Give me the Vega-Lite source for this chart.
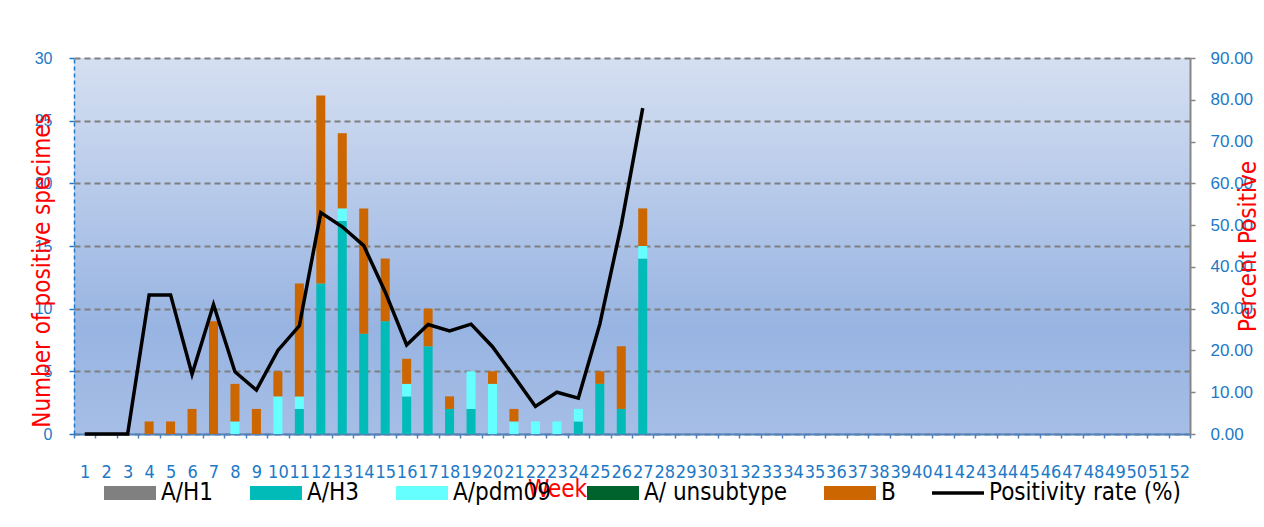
{
  "$schema": "https://vega.github.io/schema/vega-lite/v6.json",
  "width": 1116,
  "height": 376,
  "autosize": {"type": "none"},
  "padding": {"left": 74, "top": 58, "right": 74, "bottom": 93},
  "background": "white",
  "datasets": {
    "counts": [
      {"week": 4, "type": "B", "count": 1},
      {"week": 5, "type": "B", "count": 1},
      {"week": 6, "type": "B", "count": 2},
      {"week": 7, "type": "B", "count": 9},
      {"week": 8, "type": "A/pdm09", "count": 1},
      {"week": 8, "type": "B", "count": 3},
      {"week": 9, "type": "B", "count": 2},
      {"week": 10, "type": "A/pdm09", "count": 3},
      {"week": 10, "type": "B", "count": 2},
      {"week": 11, "type": "A/H3", "count": 2},
      {"week": 11, "type": "A/pdm09", "count": 1},
      {"week": 11, "type": "B", "count": 9},
      {"week": 12, "type": "A/H3", "count": 12},
      {"week": 12, "type": "B", "count": 15},
      {"week": 13, "type": "A/H3", "count": 17},
      {"week": 13, "type": "A/pdm09", "count": 1},
      {"week": 13, "type": "B", "count": 6},
      {"week": 14, "type": "A/H3", "count": 8},
      {"week": 14, "type": "B", "count": 10},
      {"week": 15, "type": "A/H3", "count": 9},
      {"week": 15, "type": "B", "count": 5},
      {"week": 16, "type": "A/H3", "count": 3},
      {"week": 16, "type": "A/pdm09", "count": 1},
      {"week": 16, "type": "B", "count": 2},
      {"week": 17, "type": "A/H3", "count": 7},
      {"week": 17, "type": "B", "count": 3},
      {"week": 18, "type": "A/H3", "count": 2},
      {"week": 18, "type": "B", "count": 1},
      {"week": 19, "type": "A/H3", "count": 2},
      {"week": 19, "type": "A/pdm09", "count": 3},
      {"week": 20, "type": "A/pdm09", "count": 4},
      {"week": 20, "type": "B", "count": 1},
      {"week": 21, "type": "A/pdm09", "count": 1},
      {"week": 21, "type": "B", "count": 1},
      {"week": 22, "type": "A/pdm09", "count": 1},
      {"week": 23, "type": "A/pdm09", "count": 1},
      {"week": 24, "type": "A/H3", "count": 1},
      {"week": 24, "type": "A/pdm09", "count": 1},
      {"week": 25, "type": "A/H3", "count": 4},
      {"week": 25, "type": "B", "count": 1},
      {"week": 26, "type": "A/H3", "count": 2},
      {"week": 26, "type": "B", "count": 5},
      {"week": 27, "type": "A/H3", "count": 14},
      {"week": 27, "type": "A/pdm09", "count": 1},
      {"week": 27, "type": "B", "count": 3}
    ],
    "rate": [
      {"week": 1, "rate": 0}, {"week": 2, "rate": 0}, {"week": 3, "rate": 0},
      {"week": 4, "rate": 33.3}, {"week": 5, "rate": 33.3}, {"week": 6, "rate": 14.3},
      {"week": 7, "rate": 31.0}, {"week": 8, "rate": 14.9}, {"week": 9, "rate": 10.5},
      {"week": 10, "rate": 20.0}, {"week": 11, "rate": 25.9}, {"week": 12, "rate": 53.0},
      {"week": 13, "rate": 49.6}, {"week": 14, "rate": 45.1}, {"week": 15, "rate": 34.0},
      {"week": 16, "rate": 21.3}, {"week": 17, "rate": 26.2}, {"week": 18, "rate": 24.7},
      {"week": 19, "rate": 26.3}, {"week": 20, "rate": 20.9}, {"week": 21, "rate": 13.8},
      {"week": 22, "rate": 6.6}, {"week": 23, "rate": 10.0}, {"week": 24, "rate": 8.6},
      {"week": 25, "rate": 26.3}, {"week": 26, "rate": 50.0}, {"week": 27, "rate": 78.0}
    ]
  },
  "layer": [
    {
      "data": {"name": "counts"},
      "mark": {"type": "bar", "width": {"band": 0.42}},
      "encoding": {
        "x": {
          "field": "week",
          "type": "ordinal",
          "scale": {
            "domain": [1,2,3,4,5,6,7,8,9,10,11,12,13,14,15,16,17,18,19,20,21,22,23,24,25,26,27,28,29,30,31,32,33,34,35,36,37,38,39,40,41,42,43,44,45,46,47,48,49,50,51,52],
            "paddingInner": 0,
            "paddingOuter": 0
          },
          "axis": {
            "title": "Week",
            "titleColor": "#ff0000",
            "titleFont": "DejaVu Sans Condensed, Liberation Sans",
            "titleFontSize": 24,
            "titleFontWeight": "normal",
            "titleX": 483,
            "titleY": 55,
            "titleAlign": "center",
            "titleBaseline": "middle",
            "labelAngle": 0,
            "labelFont": "DejaVu Sans Condensed, Liberation Sans",
            "labelFontSize": 18,
            "labelColor": "#2079c7",
            "labelPadding": 25,
            "labelOverlap": false,
            "labelBound": false,
            "tickBand": "extent",
            "tickSize": 4,
            "tickColor": "#4f81bd",
            "tickWidth": 1.5,
            "domainColor": "#4f81bd",
            "domainWidth": 2,
            "grid": false
          }
        },
        "y": {
          "field": "count",
          "type": "quantitative",
          "stack": "zero",
          "scale": {"domain": [0, 30], "nice": false},
          "axis": {
            "title": "Number of positive specimes",
            "titleColor": "#ff0000",
            "titleFont": "DejaVu Sans Condensed, Liberation Sans",
            "titleFontSize": 24,
            "titleFontWeight": "normal",
            "titleAngle": -90,
            "titleX": -32,
            "titleY": 212,
            "titleAlign": "center",
            "titleBaseline": "middle",
            "values": [0, 5, 10, 15, 20, 25, 30],
            "format": "d",
            "labelFont": "Liberation Sans",
            "labelFontSize": 16,
            "labelColor": "#2079c7",
            "labelPadding": 17,
            "tickSize": 5,
            "tickColor": "#2079c7",
            "tickWidth": 1.5,
            "domainColor": "#2079c7",
            "domainDash": [4, 3],
            "domainWidth": 1.5,
            "grid": true,
            "gridColor": "#7f7f7f",
            "gridDash": [6, 4],
            "gridWidth": 2
          }
        },
        "order": {"field": "type", "sort": "ascending"},
        "color": {
          "field": "type",
          "type": "nominal",
          "scale": {
            "domain": ["A/H1", "A/H3", "A/pdm09", "A/ unsubtype", "B", "Positivity rate (%)"],
            "range": ["#808080", "#00bbb8", "#66ffff", "#00622d", "#cc6600", "#000000"]
          },
          "legend": {
            "orient": "none",
            "legendX": 30,
            "legendY": 409,
            "direction": "horizontal",
            "columns": 6,
            "title": null,
            "padding": 0,
            "columnPadding": 36,
            "symbolSize": 2704,
            "symbolType": "M-1,-0.27H1V0.27H-1Z",
            "symbolStrokeWidth": 0,
            "symbolOpacity": 1,
            "labelFont": "DejaVu Sans Condensed, Liberation Sans",
            "labelFontSize": 24,
            "labelColor": "#000000",
            "labelOffset": 5,
            "labelLimit": 400,
            "encode": {
              "symbols": {
                "update": {
                  "shape": {"signal": "datum.value === 'Positivity rate (%)' ? 'M-1,-0.07H1V0.07H-1Z' : 'M-1,-0.27H1V0.27H-1Z'"}
                }
              }
            }
          }
        }
      }
    },
    {
      "data": {"name": "rate"},
      "mark": {"type": "line", "color": "#000000", "strokeWidth": 3.5},
      "encoding": {
        "x": {"field": "week", "type": "ordinal", "bandPosition": 0.5},
        "y": {
          "field": "rate",
          "type": "quantitative",
          "scale": {"domain": [0, 90], "nice": false},
          "axis": {
            "orient": "right",
            "title": "Percent Positive",
            "titleColor": "#ff0000",
            "titleFont": "DejaVu Sans Condensed, Liberation Sans",
            "titleFontSize": 24,
            "titleFontWeight": "normal",
            "titleAngle": -90,
            "titleX": 58,
            "titleY": 188,
            "titleAlign": "center",
            "titleBaseline": "middle",
            "values": [0, 10, 20, 30, 40, 50, 60, 70, 80, 90],
            "format": ".2f",
            "labelFont": "Liberation Sans",
            "labelFontSize": 17,
            "labelColor": "#2079c7",
            "labelPadding": 15,
            "tickSize": 5,
            "tickColor": "#868686",
            "tickWidth": 1.5,
            "domainColor": "#868686",
            "domainWidth": 2,
            "grid": false
          }
        }
      }
    }
  ],
  "resolve": {"scale": {"y": "independent"}},
  "config": {
    "font": "Liberation Sans",
    "view": {
      "stroke": null,
      "fill": {
        "gradient": "linear",
        "x1": 0, "y1": 0, "x2": 0, "y2": 1,
        "stops": [
          {"offset": 0, "color": "#d5dff1"},
          {"offset": 0.72, "color": "#98b4e2"},
          {"offset": 1, "color": "#a6bee6"}
        ]
      }
    }
  }
}
